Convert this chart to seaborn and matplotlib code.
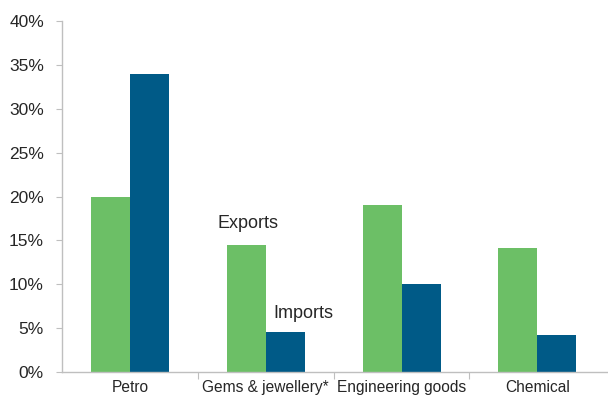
import matplotlib
matplotlib.use("Agg")
import matplotlib.pyplot as plt
import seaborn as sns
import pandas as pd
from matplotlib.ticker import PercentFormatter

categories = ["Petro", "Gems & jewellery*", "Engineering goods", "Chemical"]
exports = [20.0, 14.5, 19.0, 14.1]
imports = [34.0, 4.6, 10.0, 4.2]
series = ["Exports", "Imports"]
colors = ["#6CBF66", "#005A87"]

df = pd.DataFrame({
    "category": categories * 2,
    "series": [series[0]] * 4 + [series[1]] * 4,
    "value": exports + imports,
})

sns.set_style("white")
plt.rcParams["font.family"] = ["Liberation Sans", "DejaVu Sans"]

fig = plt.figure(figsize=(6.08, 3.96), dpi=100)
ax = fig.add_axes([0.102, 0.0606, 0.898, 0.886])

sns.barplot(data=df, x="category", y="value", hue="series", palette=colors,
            width=0.575, gap=0, saturation=1, legend=False, linewidth=0, ax=ax)

ax.set_ylim(0, 40)
ax.set_xlim(-0.5, 3.52)
ax.set_yticks(range(0, 41, 5))
ax.yaxis.set_major_formatter(PercentFormatter(decimals=0))
ax.tick_params(axis="y", labelsize=12.5, length=4, color="#BFBFBF", left=True, pad=9)

# labels at category centres, tick marks between categories
ax.set_xticks([0.5, 1.5, 2.5])
ax.set_xticklabels([])
ax.set_xticks(range(len(categories)), minor=True)
ax.set_xticklabels(categories, minor=True)
ax.tick_params(axis="x", which="major", length=5, color="#BFBFBF", bottom=True)
ax.tick_params(axis="x", which="minor", length=0, labelsize=11.2, pad=5.5)

ax.set_xlabel("")
ax.set_ylabel("")
sns.despine(ax=ax)
for s in ["left", "bottom"]:
    ax.spines[s].set_color("#BFBFBF")
    ax.spines[s].set_linewidth(1)

# series labels placed over the Gems & jewellery bars
bw = 0.575 / 2
ax.text(1 - bw / 2 + 0.01, exports[1] + 2.4, "Exports", ha="center", va="center", fontsize=13)
ax.text(1 + bw / 2 + 0.13, imports[1] + 2.1, "Imports", ha="center", va="center", fontsize=13)

fig.savefig("out.png", dpi=100)
